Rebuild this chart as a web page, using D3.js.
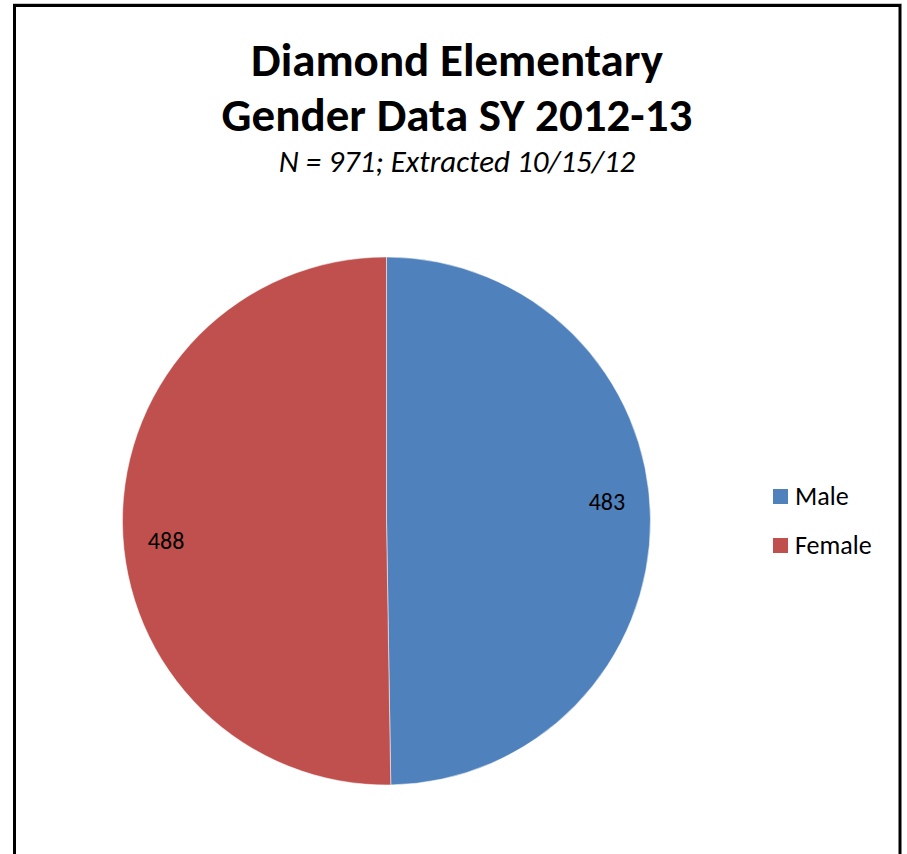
<!DOCTYPE html>
<html>
<head>
<meta charset="utf-8">
<script src="https://cdn.jsdelivr.net/npm/d3@7"></script>
<style>
  html, body { margin: 0; padding: 0; background: #fff; }
  svg { display: block; font-family: Carlito, Calibri, Lato, "Open Sans", sans-serif; }
</style>
</head>
<body>
<svg id="chart" width="907" height="854"></svg>
<script>
// Enrollment by gender
const categories = ["Male", "Female"];
const counts = [483, 488];
const colors = ["#4F81BD", "#C0504D"];
const titleLines = ["Diamond Elementary", "Gender Data SY 2012-13"];
const subtitle = "N = 971; Extracted 10/15/12";

const svg = d3.select("#chart");

// chart frame
svg.append("line").attr("x1", 13).attr("x2", 902).attr("y1", 3.5).attr("y2", 3.5)
  .attr("stroke", "#c8c8c8").attr("stroke-width", 1);
svg.append("rect")
  .attr("x", 14.5).attr("y", 5.5).attr("width", 885.5).attr("height", 900)
  .attr("fill", "#fff").attr("stroke", "#000").attr("stroke-width", 3);

// title
const title = svg.append("text").attr("text-anchor", "middle")
  .attr("font-weight", "bold").attr("font-size", 47).attr("fill", "#000");
titleLines.forEach((t, i) => {
  title.append("tspan").attr("x", 457).attr("y", 76 + i * 55).text(t);
});
svg.append("text").attr("text-anchor", "middle").attr("x", 457).attr("y", 172)
  .attr("font-style", "italic").attr("font-size", 31).attr("fill", "#000").text(subtitle);

// pie
const cx = 386.5, cy = 521, r = 264;
const data = categories.map((c, i) => ({ name: c, value: counts[i], color: colors[i] }));
const pie = d3.pie().sort(null).value(d => d.value);
const arc = d3.arc().innerRadius(0).outerRadius(r);
const labelArc = d3.arc().innerRadius(r * 0.835).outerRadius(r * 0.835);

const g = svg.append("g").attr("transform", `translate(${cx},${cy})`);
const arcs = pie(data);
g.selectAll("path").data(arcs).join("path")
  .attr("d", arc)
  .attr("fill", d => d.data.color)
  .attr("stroke", "#fff").attr("stroke-opacity", 0.5).attr("stroke-width", 1);

const labelDy = [-9, 26];
g.selectAll("text.val").data(arcs).join("text")
  .attr("class", "val")
  .attr("text-anchor", "middle")
  .attr("font-size", 24).attr("fill", "#000")
  .attr("x", d => labelArc.centroid(d)[0])
  .attr("y", (d, i) => labelArc.centroid(d)[1] + labelDy[i])
  .text(d => d.data.value);

// legend
const legend = svg.append("g").attr("transform", "translate(773,489)");
const items = legend.selectAll("g").data(data).join("g")
  .attr("transform", (d, i) => `translate(0,${i * 49})`);
items.append("rect").attr("width", 15).attr("height", 15).attr("fill", d => d.color);
items.append("text").attr("x", 22).attr("y", 16).attr("font-size", 26).attr("fill", "#000")
  .text(d => d.name);
</script>
</body>
</html>
